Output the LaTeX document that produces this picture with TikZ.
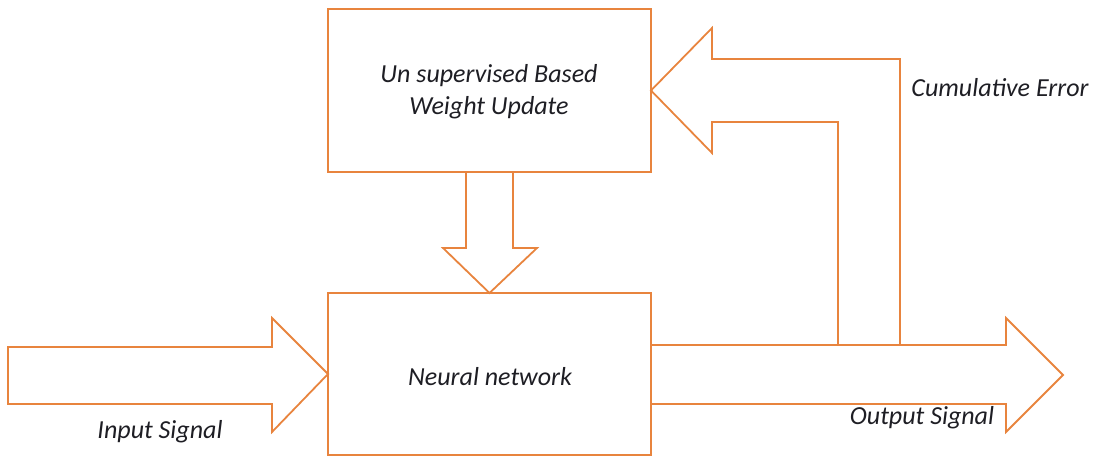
\documentclass[tikz,border=0pt]{standalone}
\usepackage{fontspec}
\setmainfont{Carlito}
\begin{document}
\begin{tikzpicture}[x=1pt,y=-1pt,
  line join=miter,
  every node/.style={inner sep=0pt, outer sep=0pt},
  blockbox/.style={draw=orng, line width=1.8pt, fill=white, rectangle},
  blockarrow/.style={draw=orng, line width=1.8pt},
  lbl/.style={text=txtc, font=\fontsize{26}{32}\selectfont\itshape},
]
\definecolor{orng}{RGB}{232,132,62}
\definecolor{txtc}{RGB}{30,30,36}
\useasboundingbox (0,0) rectangle (1099,457);

% the two processing blocks
\node[blockbox, minimum width=323pt, minimum height=163pt] (upd) at (489.5,90.5) {};
\node[blockbox, minimum width=323pt, minimum height=162pt] (nn) at (489.5,374) {};

\node[lbl, align=center] (updtxt) at (489,92) {Un supervised Based\\Weight Update};
\node[lbl] (nntxt) at (490,377) {Neural network};

% input block arrow into the network
\draw[blockarrow] (8,347) -- (272,347) -- (272,318) -- (nn.west)
  -- (272,432) -- (272,404) -- (8,404) -- cycle;

% weight update flowing down into the network
\draw[blockarrow] (466,172) -- (466,248) -- (443,248) -- (nn.north)
  -- (537,248) -- (513,248) -- (513,172);

% output block arrow leaving the network
\draw[blockarrow] (nn.east |- 0,345) -- (1006,345) -- (1006,318) -- (1063,375)
  -- (1006,432) -- (1006,404) -- (nn.east |- 0,404);

% cumulative error fed back to the update block
\draw[blockarrow] (900,345) -- (900,59) -- (712,59) -- (712,28) -- (upd.east)
  -- (712,153) -- (712,122) -- (838,122) -- (838,345);

\node[lbl] (intxt) at (160,432) {Input Signal};
\node[lbl] (outtxt) at (922,418) {Output Signal};
\node[lbl] (errtxt) at (1000,88) {Cumulative Error};
\end{tikzpicture}
\end{document}
